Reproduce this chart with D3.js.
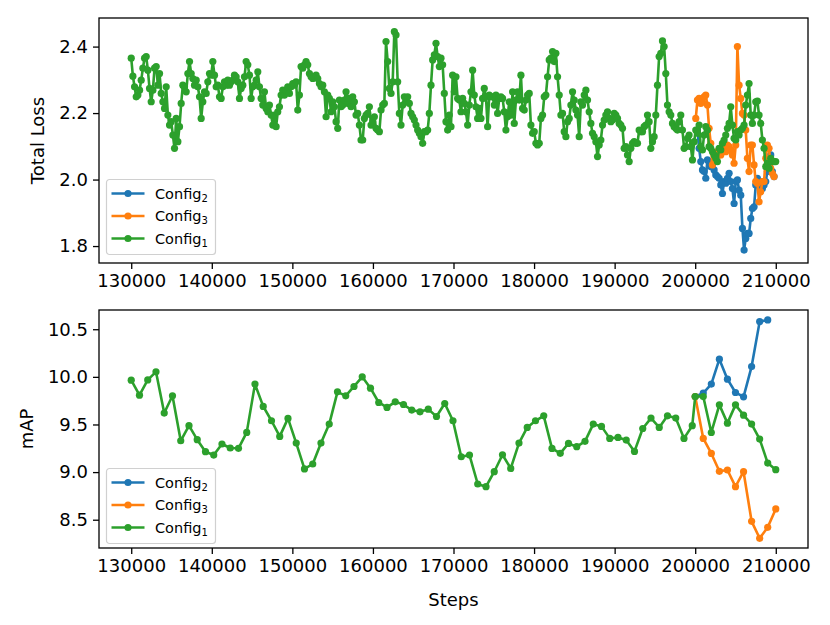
<!DOCTYPE html>
<html><head><meta charset="utf-8">
<script src="https://cdn.jsdelivr.net/npm/d3@7"></script>
<style>
body{margin:0;background:#fff}
svg{display:block}
text{font-family:"DejaVu Sans",sans-serif;fill:#000}
</style>
</head><body>
<svg id="chart" width="830" height="625"></svg>
<script>
// ---------------- DATA ----------------
const xTicks = [130000,140000,150000,160000,170000,180000,190000,200000,210000];
const lossTicks = [1.8,2.0,2.2,2.4];
const mapTicks = [8.5,9.0,9.5,10.0,10.5];
const seriesNames = ["Config2","Config3","Config1"];
const seriesColors = ["#1f77b4","#ff7f0e","#2ca02c"];

const lossEvery = 206.7;
const lossStart1 = 130000;
const lossStart3 = 200070;
const lossStart2 = 200280;
const lossConfig1 = [
2.365,2.311,2.279,2.249,2.254,2.269,2.299,2.335,2.365,2.370,
2.329,2.274,2.234,2.269,2.335,2.340,2.284,2.319,2.259,2.234,
2.214,2.279,2.194,2.164,2.174,2.134,2.094,2.184,2.114,2.159,
2.229,2.284,2.279,2.264,2.319,2.355,2.319,2.304,2.284,2.299,
2.279,2.249,2.184,2.234,2.264,2.259,2.294,2.319,2.314,2.355,
2.314,2.279,2.284,2.249,2.244,2.279,2.294,2.284,2.299,2.284,
2.294,2.299,2.314,2.309,2.294,2.244,2.274,2.284,2.309,2.355,
2.345,2.314,2.244,2.279,2.284,2.299,2.324,2.279,2.244,2.224,
2.264,2.214,2.204,2.224,2.194,2.164,2.194,
2.159,2.204,2.219,2.254,2.269,2.254,2.269,2.279,2.259,2.279,
2.289,2.284,2.294,2.209,2.254,2.340,2.335,2.345,2.355,2.345,
2.319,2.309,2.304,2.309,2.314,2.304,2.289,2.279,2.284,2.264,
2.189,2.254,2.244,2.204,2.234,2.219,2.174,2.154,2.239,2.219,
2.224,2.239,2.264,2.229,2.244,2.219,2.249,2.234,2.194,2.199,
2.164,2.119,2.119,2.184,2.194,2.199,2.219,2.164,2.174,2.189,
2.154,2.149,2.144,2.209,2.224,2.229,2.415,2.355,2.274,2.259,
2.294,2.445,2.435,2.294,2.199,2.164,2.224,2.249,2.234,2.249,
2.229,2.199,2.189,2.179,2.164,2.149,2.139,2.129,2.109,2.144,
2.144,2.149,2.199,2.284,2.360,2.375,2.410,2.370,2.340,2.365,
2.345,2.259,2.174,2.149,2.194,
2.159,2.314,2.264,2.309,2.244,2.239,2.204,2.244,2.229,2.204,
2.164,2.224,2.264,2.329,2.254,2.219,2.184,2.214,2.184,2.244,
2.274,2.249,2.159,2.254,2.249,2.249,2.224,2.254,2.199,2.244,
2.249,2.244,2.204,2.149,2.189,2.234,2.194,2.264,2.169,2.239,
2.264,2.239,2.314,2.214,2.209,2.239,2.254,2.259,2.164,2.139,
2.144,2.109,2.104,2.109,2.184,2.194,2.249,2.254,2.309,2.360,
2.365,2.385,2.355,2.380,2.309,2.254,2.194,2.199,2.144,2.129,
2.174,2.184,2.224,2.264,2.239,2.209,2.194,2.129,2.234,2.224,
2.254,2.269,2.239,2.204,2.169,2.139,2.129,2.114,2.069,2.104,
2.119,2.164,2.179,2.194,2.204,2.184,2.174,2.179,2.199,2.194,
2.184,2.169,2.164,2.154,2.094,
2.099,2.074,2.054,2.094,2.109,2.114,2.109,2.109,2.149,2.144,
2.144,2.159,2.164,2.194,2.174,2.094,2.114,2.129,2.194,2.284,
2.370,2.380,2.417,2.400,2.319,2.224,2.204,2.194,2.169,2.159,
2.154,2.149,2.174,2.194,2.149,2.094,2.099,2.124,2.134,2.099,
2.059,2.114,2.149,2.139,2.164,2.099,2.089,2.134,2.159,2.149,
2.099,2.094,2.084,2.074,2.064,2.054,2.094,2.089,2.109,2.119,
2.134,2.154,2.169,2.219,2.164,2.124,2.119,2.144,2.134,2.149,
2.154,2.164,2.224,2.254,2.289,2.194,2.169,2.194,2.234,2.236,
2.194,2.169,2.119,2.094,2.039,2.049,2.034,2.064,2.054,2.054,
2.054
];
const lossConfig3 = [
2.184,2.239,2.244,2.229,2.234,2.249,2.254,2.224,2.154,2.109,
2.044,2.054,2.074,2.084,2.074,2.074,2.094,2.104,2.084,2.104,
2.099,2.089,2.074,2.049,2.104,2.400,2.284,2.244,2.199,2.194,
2.149,2.064,2.024,2.104,2.104,2.044,1.994,1.989,1.933,1.963,
1.994,1.994,2.064,2.104,2.094,2.034,2.019,2.009
];
const lossConfig2 = [
2.149,2.094,2.054,2.029,2.024,2.004,2.059,2.054,2.039,2.044,
2.029,2.014,2.009,2.004,1.984,1.958,1.994,1.989,2.004,2.019,
1.994,1.973,1.928,1.994,1.999,1.968,1.953,1.853,1.788,1.823,
1.838,1.838,1.883,1.913,1.918,1.984,2.004,1.984,1.994,1.973,
1.984,1.994,2.024,2.034,2.074,2.024,2.009
];

// mAP evaluations
const mapStepsConfig1 = [
130000,131024,132048,133072,134096,135120,136144,137168,138192,139216,
140240,141264,142288,143312,144336,145360,146384,147408,148432,149456,
150480,151504,152528,153552,154576,155600,156624,157648,158672,159696,
160720,161744,162768,163792,164816,165840,166864,167888,168912,169936,
170960,171984,173008,174032,175056,176080,177104,178128,179152,180176,
181200,182224,183248,184272,185296,186320,187344,188368,189392,190416,
191440,192464,193488,194512,195536,196560,197584,198608,199632,
200000,201000,202000,203000,204000,205000,206000,207000,208000,209000,210000
];
const mapConfig1 = [
9.965,9.808,9.968,10.053,9.620,9.801,9.329,9.487,9.340,9.214,
9.179,9.295,9.253,9.250,9.417,9.924,9.690,9.539,9.375,9.564,
9.305,9.033,9.085,9.305,9.504,9.843,9.801,9.899,10.000,9.881,
9.731,9.679,9.738,9.710,9.651,9.633,9.661,9.584,9.720,9.539,
9.161,9.179,8.875,8.847,9.004,9.182,9.039,9.305,9.469,9.539,
9.591,9.249,9.197,9.301,9.267,9.323,9.504,9.480,9.354,9.364,
9.336,9.217,9.458,9.567,9.469,9.591,9.567,9.354,9.487,
9.793,9.793,9.416,9.706,9.514,9.706,9.598,9.504,9.347,9.095,9.025
];
const mapStepsConfig2 = [200000,201000,202000,203000,204000,205000,206000,207000,208000,209000];
const mapConfig2 = [9.793,9.830,9.924,10.186,9.976,9.836,9.790,10.108,10.580,10.598];
const mapStepsConfig3 = [200000,201000,202000,203000,204000,205000,206000,207000,208000,209000,210000];
const mapConfig3 = [9.793,9.354,9.196,9.008,9.022,8.847,9.004,8.483,8.305,8.420,8.613];

// ---------------- CHART ----------------
const svg = d3.select("#chart");
const L = 99, R = 808;
const x = d3.scaleLinear().domain([126000, 214000]).range([L, R]);

function toPts(steps, vals){ return vals.map((v,i)=>({s:steps[i], v})); }
function regular(start, vals){ return vals.map((v,i)=>({s:start + i*lossEvery, v})); }

const lossSeries = [
  regular(lossStart2, lossConfig2),
  regular(lossStart3, lossConfig3),
  regular(lossStart1, lossConfig1)
];
const mapSeries = [
  toPts(mapStepsConfig2, mapConfig2),
  toPts(mapStepsConfig3, mapConfig3),
  toPts(mapStepsConfig1, mapConfig1)
];

function panel(opt){
  const y = d3.scaleLinear().domain(opt.yDomain).range([opt.bottom, opt.top]);
  const g = svg.append("g");
  const line = d3.line().x(d=>x(d.s)).y(d=>y(d.v));
  opt.series.forEach((pts, k)=>{
    g.append("path").datum(pts).attr("d", line)
      .attr("fill","none").attr("stroke", seriesColors[k])
      .attr("stroke-width", 2.6).attr("stroke-linejoin","round");
    g.append("g").selectAll("circle").data(pts).join("circle")
      .attr("cx", d=>x(d.s)).attr("cy", d=>y(d.v)).attr("r", 3.6)
      .attr("fill", seriesColors[k]);
  });
  // axes
  const xa = svg.append("g").attr("transform",`translate(0,${opt.bottom})`)
    .call(d3.axisBottom(x).tickValues(xTicks).tickSize(6).tickPadding(5).tickFormat(d3.format("d")));
  const ya = svg.append("g").attr("transform",`translate(${L},0)`)
    .call(d3.axisLeft(y).tickValues(opt.yTicks).tickSize(6).tickPadding(5).tickFormat(d3.format(".1f")));
  [xa, ya].forEach(a=>{
    a.select(".domain").remove();
    a.selectAll("line").attr("stroke","#000").attr("stroke-width",1.3);
    a.selectAll("text").attr("font-size",18).attr("font-family","DejaVu Sans").attr("fill","#000");
  });
  // frame
  svg.append("rect").attr("x",L).attr("y",opt.top).attr("width",R-L).attr("height",opt.bottom-opt.top)
    .attr("fill","none").attr("stroke","#000").attr("stroke-width",1.3);
  // y label
  svg.append("text").attr("transform",`translate(${opt.labelX},${(opt.top+opt.bottom)/2}) rotate(-90)`)
    .attr("text-anchor","middle").attr("font-size",18).text(opt.label);
  // legend
  const lg = svg.append("g").attr("transform",`translate(106.5,${opt.legendY})`);
  lg.append("rect").attr("width",109).attr("height",75).attr("rx",3)
    .attr("fill","#fff").attr("fill-opacity",0.8).attr("stroke","#d0d0d0").attr("stroke-width",1.2);
  seriesNames.forEach((name,k)=>{
    const yy = 14 + k*22.5;
    lg.append("line").attr("x1",5).attr("x2",38).attr("y1",yy).attr("y2",yy)
      .attr("stroke",seriesColors[k]).attr("stroke-width",2.6);
    lg.append("circle").attr("cx",21.5).attr("cy",yy).attr("r",3.6).attr("fill",seriesColors[k]);
    const t = lg.append("text").attr("x",48.5).attr("y",yy+5).attr("font-size",14.5);
    t.append("tspan").text(name.slice(0,6));
    t.append("tspan").attr("font-size",10).attr("dy",3).text(name.slice(6));
  });
}

panel({top:18, bottom:263, yDomain:[1.749,2.486], yTicks:lossTicks,
       series:lossSeries, label:"Total Loss", labelX:44, legendY:179.5});
panel({top:310, bottom:548, yDomain:[8.203,10.702], yTicks:mapTicks,
       series:mapSeries, label:"mAP", labelX:33, legendY:468.5});

svg.append("text").attr("x",(L+R)/2).attr("y",606).attr("text-anchor","middle")
  .attr("font-size",18).text("Steps");
</script>
</body></html>
